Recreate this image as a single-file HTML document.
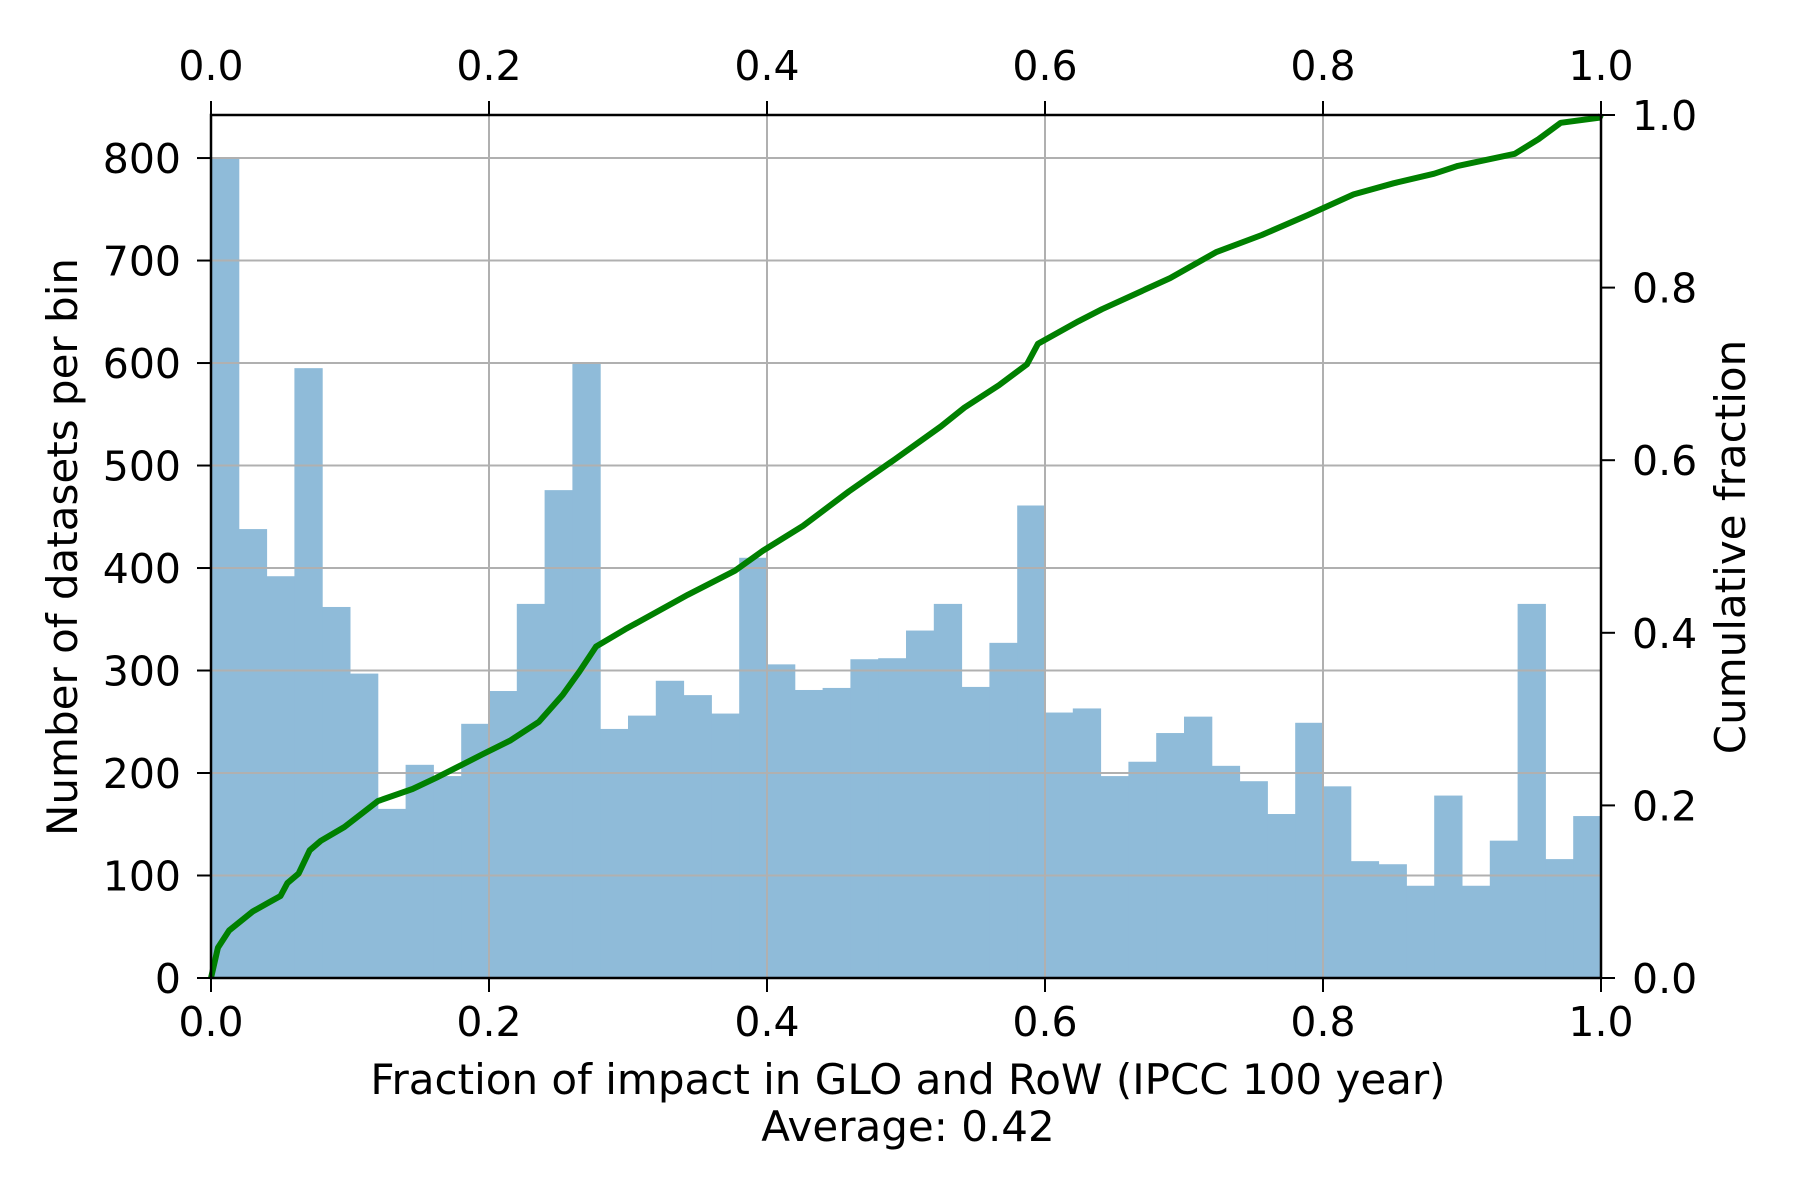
<!DOCTYPE html>
<html><head><meta charset="utf-8"><style>
html,body{margin:0;padding:0;background:#fff;}
svg{display:block;font-family:"DejaVu Sans","Liberation Sans",sans-serif;}
</style></head><body>
<svg id="chart" width="1800" height="1200" viewBox="0 0 1800 1200" xmlns="http://www.w3.org/2000/svg">
<g id="grid"></g>
<g id="bars"></g>
<g id="gridTop"></g>
<path id="cum" fill="none" stroke="#008000" stroke-width="6" stroke-linejoin="round"/>
<g id="axes"></g>
<text x="908" y="1094" font-size="42" text-anchor="middle">Fraction of impact in GLO and RoW (IPCC 100 year)</text>
<text x="908" y="1141" font-size="42" text-anchor="middle">Average: 0.42</text>
<text transform="translate(77,547) rotate(-90)" font-size="42" text-anchor="middle">Number of datasets per bin</text>
<text transform="translate(1745,547) rotate(-90)" font-size="42" text-anchor="middle">Cumulative fraction</text>
</svg>
<script>
const binCounts = [800,438,392,595,362,297,165,208,197,248,280,365,476,600,243,256,290,276,258,410,306,281,283,311,312,339,365,284,327,461,259,263,197,211,239,255,207,192,160,249,187,114,111,90,178,90,134,365,116,158];
const cumX = [0,0.005,0.013,0.03,0.042,0.05,0.055,0.063,0.071,0.079,0.096,0.112,0.12,0.145,0.162,0.178,0.195,0.215,0.236,0.253,0.265,0.277,0.298,0.343,0.377,0.397,0.426,0.459,0.492,0.525,0.542,0.567,0.587,0.595,0.624,0.641,0.69,0.723,0.756,0.789,0.822,0.851,0.88,0.897,0.938,0.955,0.971,0.999,1.0];
const cumY = [0,0.035,0.055,0.077,0.088,0.095,0.11,0.121,0.148,0.159,0.175,0.195,0.205,0.219,0.232,0.245,0.259,0.275,0.297,0.328,0.355,0.384,0.404,0.444,0.472,0.495,0.524,0.564,0.601,0.639,0.661,0.687,0.711,0.735,0.761,0.775,0.811,0.841,0.861,0.884,0.908,0.921,0.932,0.941,0.955,0.972,0.991,0.997,1.0];
const xTicks = [0,0.2,0.4,0.6,0.8,1.0];
const yTicks = [0,100,200,300,400,500,600,700,800];
const y2Ticks = [0,0.2,0.4,0.6,0.8,1.0];

const L=211,R=1601,T=115,B=978;
const sx=v=>L+v*(R-L);
const sy=v=>B-v*(B-T)/842;
const sy2=v=>B-v*(B-T);
const NS="http://www.w3.org/2000/svg";
function mk(tag,attrs,parent){const e=document.createElementNS(NS,tag);for(const k in attrs)e.setAttribute(k,attrs[k]);parent.appendChild(e);return e;}
const grid=document.getElementById('grid'),bars=document.getElementById('bars'),axes=document.getElementById('axes'),gridTop=document.getElementById('gridTop');
xTicks.forEach(t=>{const l=mk('line',{x1:sx(t),x2:sx(t),y1:T,y2:B,stroke:'#b0b0b0','stroke-width':2},grid);

});
yTicks.forEach(t=>{const l=mk('line',{x1:L,x2:R,y1:sy(t),y2:sy(t),stroke:'#b0b0b0','stroke-width':2},grid);

});
const bw=1/binCounts.length;
binCounts.forEach((c,i)=>{const x0=sx(i*bw),x1=sx((i+1)*bw);
const r=mk('rect',{x:x0,y:sy(c),width:x1-x0+0.5,height:B-sy(c),fill:'#8fbbd9'},bars);

});
xTicks.forEach(t=>{const l=mk('line',{x1:sx(t),x2:sx(t),y1:T,y2:B,stroke:'#b0b0b0','stroke-width':2},gridTop);

});
yTicks.forEach(t=>{const l=mk('line',{x1:L,x2:R,y1:sy(t),y2:sy(t),stroke:'#b0b0b0','stroke-width':2},gridTop);

});
document.getElementById('cum').setAttribute('d',cumX.map((x,i)=>(i?'L':'M')+sx(x).toFixed(1)+','+sy2(cumY[i]).toFixed(1)).join(''));
const fr=mk('rect',{x:L,y:T,width:R-L,height:B-T,fill:'none',stroke:'#000','stroke-width':2.5},axes);


const fmt=v=>v.toFixed(1);
xTicks.forEach(t=>{
 mk('line',{x1:sx(t),x2:sx(t),y1:B,y2:B+14,stroke:'#000','stroke-width':2},axes);
 mk('line',{x1:sx(t),x2:sx(t),y1:T,y2:T-14,stroke:'#000','stroke-width':2},axes);
 const a=mk('text',{x:sx(t),y:B+58,'font-size':41,'text-anchor':'middle'},axes);a.textContent=fmt(t);
 
 
 const b=mk('text',{x:sx(t),y:T-35,'font-size':41,'text-anchor':'middle'},axes);b.textContent=fmt(t);
 
 
});
yTicks.forEach(t=>{
 mk('line',{x1:L,x2:L-14,y1:sy(t),y2:sy(t),stroke:'#000','stroke-width':2},axes);
 const a=mk('text',{x:L-30,y:sy(t)+15,'font-size':41,'text-anchor':'end'},axes);a.textContent=t;
 
 
});
y2Ticks.forEach(t=>{
 mk('line',{x1:R,x2:R+14,y1:sy2(t),y2:sy2(t),stroke:'#000','stroke-width':2},axes);
 const a=mk('text',{x:R+31,y:sy2(t)+15,'font-size':41,'text-anchor':'start'},axes);a.textContent=fmt(t);
 
 
});
</script>
</body></html>
